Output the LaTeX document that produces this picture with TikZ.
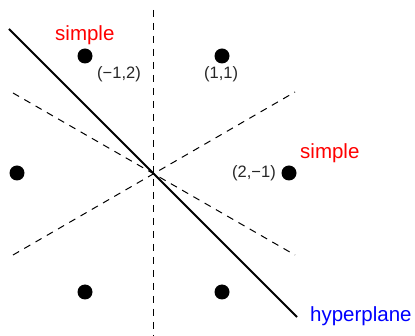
\documentclass[tikz,border=0pt]{standalone}
\usepackage{fontspec}
\setmainfont{Liberation Sans}
\begin{document}
\begin{tikzpicture}[x=1pt,y=-1pt,
  pt/.style={circle,fill=black,inner sep=0pt,minimum size=15pt},
  lab/.style={inner sep=0pt,anchor=base west,text=black!85,font=\fontsize{16.5}{18}\selectfont},
  red lab/.style={inner sep=0pt,anchor=base west,text=red,font=\fontsize{20.5}{22}\selectfont},
  blue lab/.style={inner sep=0pt,anchor=base west,text=blue,font=\fontsize{20.5}{22}\selectfont},
  guide/.style={line width=1pt,dash pattern=on 7pt off 6pt},
  hyper/.style={line width=2pt}]
\useasboundingbox (0,0) rectangle (415,336);
% guide lines
\coordinate (vt) at (153,10);
\coordinate (vb) at (153,336);
\coordinate (d1a) at (13,93);
\coordinate (d1b) at (295,255);
\coordinate (d2a) at (13,255);
\coordinate (d2b) at (295,92);
\coordinate (ha) at (9,29);
\coordinate (hb) at (297,317);
\draw[guide] (vt) -- (vb);
\draw[guide] (d1a) -- (d1b);
\draw[guide] (d2a) -- (d2b);
\draw[hyper] (ha) -- (hb);
% points
\node[pt] (p12) at (85,56) {};
\node[pt] (p11) at (222,56) {};
\node[pt] (p2m1) at (289,173) {};
\node[pt] (pl) at (17,173) {};
\node[pt] (pbl) at (85,292) {};
\node[pt] (pbr) at (222,292) {};
% labels
\node[lab] (l12) at (97,79) {(−1,2)};
\node[lab] (l11) at (204,79) {(1,1)};
\node[lab] (l2m1) at (232,178) {(2,−1)};
\node[red lab] (s1) at (55,41) {simple};
\node[red lab] (s2) at (300,159) {simple};
\node[blue lab] (hp) at (310,322) {hyperplane};
\end{tikzpicture}
\end{document}
